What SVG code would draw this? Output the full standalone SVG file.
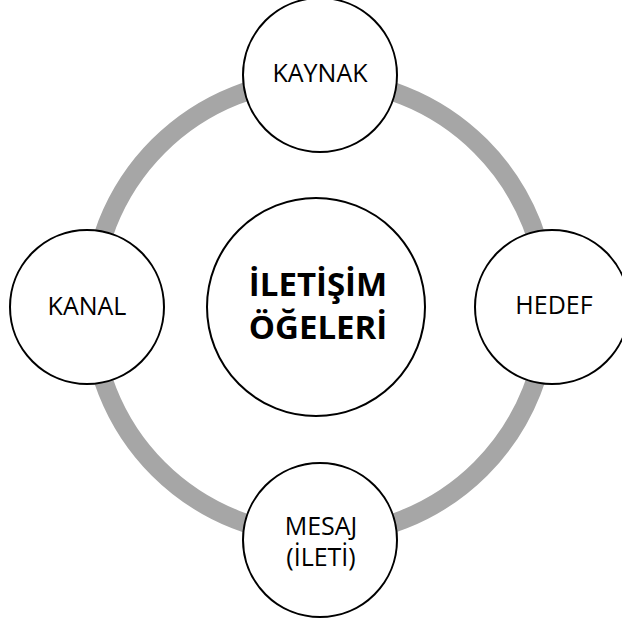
<svg xmlns="http://www.w3.org/2000/svg" width="622" height="623" viewBox="0 0 622 623">
<style>
.node{fill:#fff;stroke:#000;stroke-width:2}
.lbl{font-family:"Open Sans","Noto Sans","DejaVu Sans",sans-serif;font-size:25px;fill:#000;text-anchor:middle}
.title{font-family:"Open Sans","Noto Sans","DejaVu Sans",sans-serif;font-size:33px;font-weight:bold;fill:#000;text-anchor:middle}
</style>
<rect width="622" height="623" fill="#fff"/>
<g id="connectors">
<circle cx="319.5" cy="307.5" r="228" fill="none" stroke="#a6a6a6" stroke-width="19"/>
</g>
<g id="center">
<circle class="node" cx="316" cy="307" r="109"/>
<text class="title" x="318" y="296">İLETİŞİM</text>
<text class="title" x="318" y="339">ÖĞELERİ</text>
</g>
<g id="kaynak">
<circle class="node" cx="320" cy="75" r="77"/>
<text class="lbl" x="320" y="82">KAYNAK</text>
</g>
<g id="kanal">
<circle class="node" cx="87" cy="307" r="77"/>
<text class="lbl" x="87" y="315">KANAL</text>
</g>
<g id="hedef">
<circle class="node" cx="552" cy="307" r="77"/>
<text class="lbl" x="554" y="314">HEDEF</text>
</g>
<g id="mesaj">
<circle class="node" cx="320" cy="540" r="77"/>
<text class="lbl" x="321" y="535">MESAJ</text>
<text class="lbl" x="321" y="566">(İLETİ)</text>
</g>
</svg>
